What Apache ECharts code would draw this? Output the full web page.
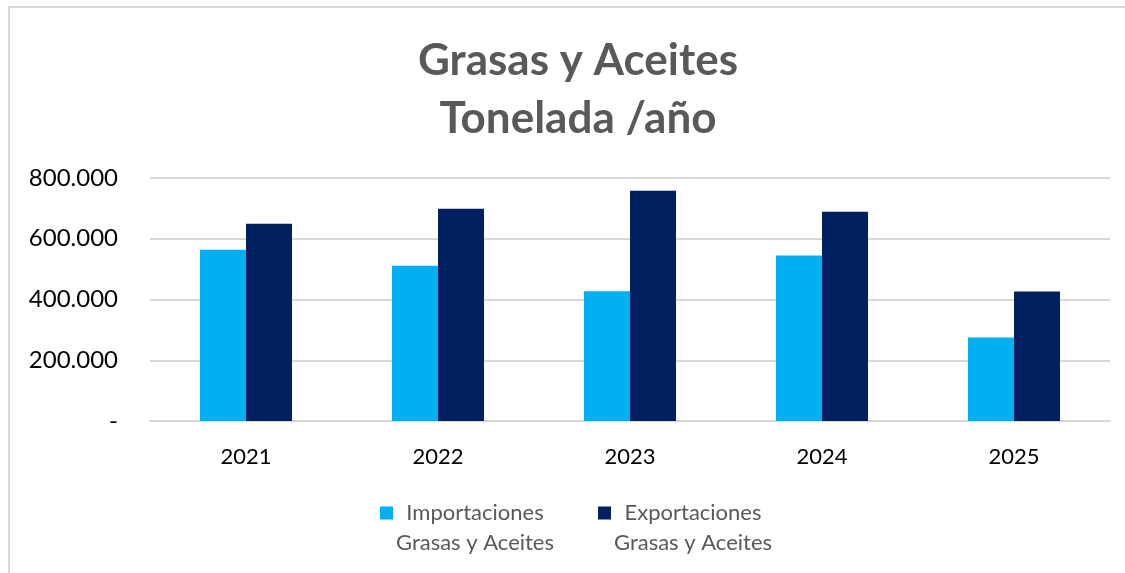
<!DOCTYPE html>
<html>
<head>
<meta charset="utf-8">
<title>Grasas y Aceites</title>
<style>
    html, body { margin: 0; padding: 0; background: #fff; }
    #chart { width: 1125px; height: 573px; }
</style>
<script src="https://cdn.jsdelivr.net/npm/echarts@6/dist/echarts.min.js"></script>
</head>
<body>
<div id="chart"></div>
<script>
    // datos (toneladas por año)
    var years = ['2021', '2022', '2023', '2024', '2025'];
    var importaciones = [564000, 511000, 427000, 545000, 275000];
    var exportaciones = [649000, 699000, 758000, 689000, 426000];
    var seriesNames = ['Importaciones\nGrasas y Aceites', 'Exportaciones\nGrasas y Aceites'];
    var yTicks = [0, 200000, 400000, 600000, 800000];

    var myChart = echarts.init(document.getElementById('chart'));

    function fmtMiles(v) {
        if (v === 0) return '-';
        return String(v).replace(/\B(?=(\d{3})+(?!\d))/g, '.');
    }

    var option = {
        backgroundColor: '#fff',
        textStyle: { fontFamily: 'Lato' },
        title: {
            text: 'Grasas y Aceites\nTonelada /año',
            left: 573,
            textAlign: 'center',
            top: 27,
            textStyle: {
                fontFamily: 'Lato',
                fontSize: 44,
                fontWeight: 'bold',
                color: '#595959',
                lineHeight: 58
            }
        },
        graphic: [{
            type: 'rect',
            shape: { x: 9, y: 7, width: 1300, height: 700 },
            style: { fill: 'none', stroke: '#d9d9d9', lineWidth: 2 },
            silent: true
        }],
        legend: {
            left: 380,
            top: 472,
            padding: 0,
            itemGap: 44,
            itemWidth: 13,
            itemHeight: 13,
            icon: 'rect',
            // linea vacia arriba para que el cuadro quede junto a la primera linea
            formatter: function(name) {
                return '{a| }\n{a|' + name.split('\n').join('}\n{a|') + '}';
            },
            textStyle: {
                rich: {
                    a: {
                        width: 154,
                        align: 'center',
                        fontFamily: 'Lato',
                        fontSize: 22,
                        lineHeight: 30,
                        color: '#595959'
                    }
                }
            }
        },
        grid: {
            left: 150,
            right: 15,
            top: 178,
            bottom: 152
        },
        xAxis: {
            type: 'category',
            data: years,
            axisTick: { show: false },
            axisLine: { lineStyle: { color: '#d9d9d9', width: 2 } },
            axisLabel: {
                margin: 25,
                fontFamily: 'Lato',
                fontSize: 22,
                color: '#000'
            }
        },
        yAxis: {
            type: 'value',
            min: yTicks[0],
            max: yTicks[yTicks.length - 1],
            interval: yTicks[1] - yTicks[0],
            axisLine: { show: false },
            axisTick: { show: false },
            splitLine: { lineStyle: { color: '#d9d9d9', width: 2 } },
            axisLabel: {
                margin: 32,
                fontFamily: 'Lato',
                fontSize: 24,
                color: '#000',
                formatter: fmtMiles
            }
        },
        series: [{
            name: seriesNames[0],
            type: 'bar',
            data: importaciones,
            barWidth: 46,
            barGap: '0%',
            itemStyle: { color: '#00b0f0' }
        }, {
            name: seriesNames[1],
            type: 'bar',
            data: exportaciones,
            barWidth: 46,
            itemStyle: { color: '#002060' }
        }]
    };
    myChart.setOption(option);
</script>
</body>
</html>
